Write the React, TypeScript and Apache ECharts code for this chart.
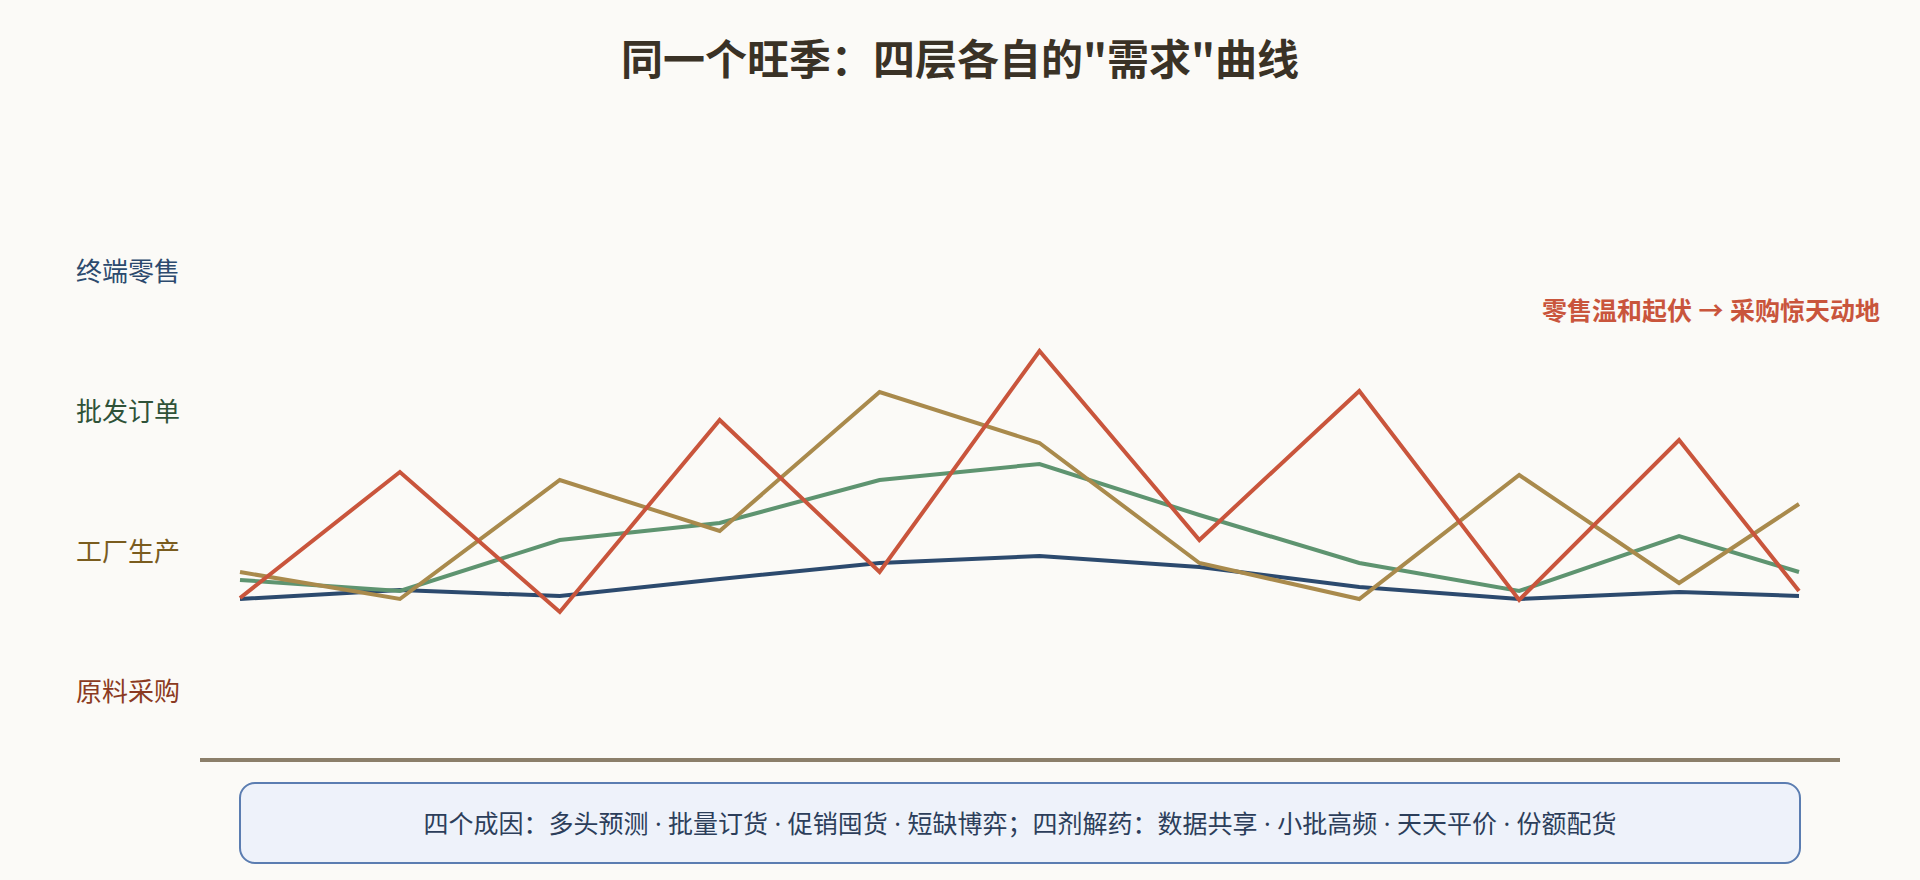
import React, { useEffect, useRef } from "react";
import * as echarts from "echarts";

const periods = [0, 1, 2, 3, 4, 5, 6, 7, 8, 9, 9.75];
const retail = [80.5, 85, 82, 90.5, 98.5, 102, 96.5, 86.5, 80.5, 84, 82];
const wholesale = [90, 84.5, 110, 118.5, 140, 148, 122.5, 98.5, 84.5, 112, 94];
const factory = [94, 80.5, 140, 114.5, 184, 158.5, 98.5, 80.5, 142.5, 88.5, 128];
const rawPurchase = [81, 144, 74, 170, 94, 204.5, 110, 184.5, 80, 160, 84.5];

const layerNames = ["终端零售", "批发订单", "工厂生产", "原料采购"];
const layerColors = ["#2c4a6e", "#2f5238", "#7a5c1e", "#8b3a22"];
const lineColors = ["#2c4a6e", "#5e9470", "#a98a4c", "#c9553c"];
const seriesData = [retail, wholesale, factory, rawPurchase];

const titleText = '同一个旺季：四层各自的"需求"曲线';
const noteText = "零售温和起伏 → 采购惊天动地";
const footerText =
  "四个成因：多头预测 · 批量订货 · 促销囤货 · 短缺博弈；四剂解药：数据共享 · 小批高频 · 天天平价 · 份额配货";

const FONT = "'Noto Sans CJK SC', 'Noto Sans', sans-serif";
const LATIN_FIRST = "'Noto Sans', 'Noto Sans CJK SC', sans-serif";

export default function App() {
  const ref = useRef<HTMLDivElement>(null);
  useEffect(() => {
    document.body.style.margin = "0";
    if (!ref.current) return;
    const chart = echarts.init(ref.current, undefined, { renderer: "svg" });
    const labelGraphics = layerNames.map((name, i) => ({
      type: "text",
      left: 76,
      top: 271 + i * 140 - 15,
      style: {
        text: name,
        fill: layerColors[i],
        font: `26px ${FONT}`,
      },
    }));
    chart.setOption({
      animation: false,
      backgroundColor: "#fbfaf7",
      title: {
        text: titleText,
        left: "center",
        top: 30,
        textStyle: {
          fontFamily: FONT,
          fontSize: 42,
          fontWeight: "bold",
          color: "#3a3226",
        },
      },
      grid: { left: 240, right: 121, top: 160, bottom: 120 },
      xAxis: {
        type: "value",
        min: 0,
        max: 9.75,
        show: false,
      },
      yAxis: {
        type: "value",
        min: 0,
        max: 300,
        show: false,
      },
      series: seriesData.map((d, i) => ({
        type: "line",
        name: layerNames[i],
        data: d.map((v, j) => [periods[j], v]),
        symbol: "none",
        z: 2 + i,
        lineStyle: { color: lineColors[i], width: 4, join: "miter", cap: "butt" },
      })),
      graphic: [
        ...labelGraphics,
        {
          type: "text",
          right: 40,
          top: 297,
          style: {
            text: noteText,
            fill: "#c9553c",
            font: `bold 25px ${LATIN_FIRST}`,
          },
        },
        {
          type: "line",
          shape: { x1: 200, y1: 760, x2: 1840, y2: 760 },
          style: { stroke: "#8b7f6a", lineWidth: 4 },
        },
        {
          type: "rect",
          shape: { x: 240, y: 783, width: 1560, height: 80, r: 15 },
          style: { fill: "#eef2fa", stroke: "#5b7db1", lineWidth: 2 },
        },
        {
          type: "text",
          x: 1020,
          y: 823,
          style: {
            text: footerText,
            fill: "#2c3e5a",
            font: `25px ${LATIN_FIRST}`,
            align: "center",
            verticalAlign: "middle",
          },
        },
      ],
    });
    return () => chart.dispose();
  }, []);
  return (
    <div
      ref={ref}
      style={{ position: "absolute", left: 0, top: 0, width: 1920, height: 880 }}
    />
  );
}
